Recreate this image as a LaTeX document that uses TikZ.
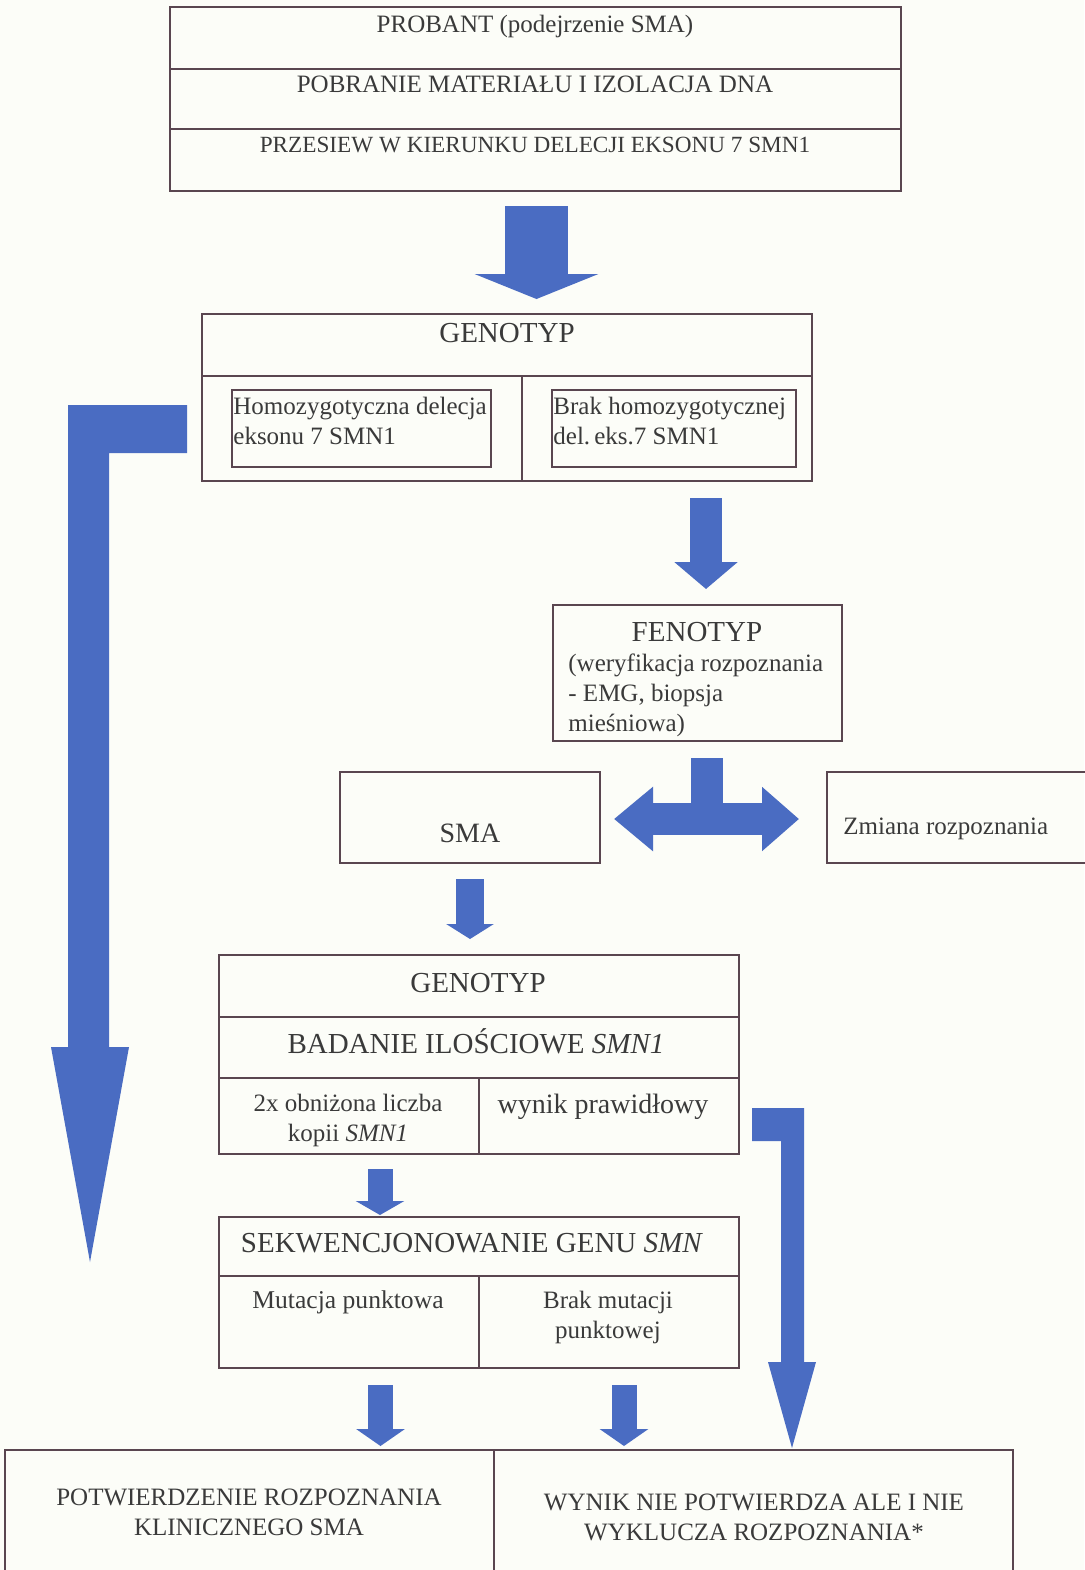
\documentclass[tikz,border=0pt]{standalone}
\usepackage{fontspec}
\setmainfont{Liberation Serif}
\usetikzlibrary{arrows.meta}
\usetikzlibrary{fit}
\definecolor{paper}{HTML}{FCFDF8}
\definecolor{boxline}{HTML}{5A4650}
\definecolor{arrblue}{HTML}{4A6CC2}
\definecolor{ink}{HTML}{3A3A3A}
\tikzset{cell/.style = {draw = boxline, line width = 1pt, inner sep = 0, fit = {#1}}}
\tikzset{txt/.style = {text = ink, inner sep = 0, anchor = base,
                       font = \fontsize{12.5}{15}\selectfont}}
\tikzset{bigtxt/.style = {txt, font = \fontsize{14.5}{17}\selectfont}}
\tikzset{fat/.style args = {#1/#2/#3}{draw = arrblue, line width = #1,
                                      -{Triangle[width = #2, length = #3]}}}
\begin{document}
\begin{tikzpicture}[x = 0.5pt, y = -0.5pt]
          \fill [paper] (0, 0) rectangle (1084, 1570);
          \useasboundingbox (0, 0) rectangle (1084, 1570);
          % top block
          \node [cell = {(170, 7) (901, 69)}] (probant) {};
          \node [cell = {(170, 69) (901, 129)}] (pobranie) {};
          \node [cell = {(170, 129) (901, 191)}] (przesiew) {};
          \node [txt] (tprobant) at (535, 32) {PROBANT (podejrzenie SMA)};
          \node [txt] (tpobranie) at (535, 92) {POBRANIE MATERIAŁU I IZOLACJA DNA};
          \node [txt, font = \fontsize{11.6}{14}\selectfont] (tprzesiew) at (535, 152) {PRZESIEW W KIERUNKU DELECJI EKSONU 7 SMN1};
          % genotyp
          \node [cell = {(202, 314) (812, 376)}] (gen) {};
          \node [cell = {(202, 376) (522, 481)}] (genl) {};
          \node [cell = {(522, 376) (812, 481)}] (genr) {};
          \node [cell = {(232, 390) (491, 467)}] (homo) {};
          \node [cell = {(552, 390) (796, 467)}] (brak) {};
          \node [bigtxt] (tgen) at (507, 342) {GENOTYP};
          \node [txt, anchor = base west, align = left] (thomo) at (233, 444) {Homozygotyczna delecja\\eksonu 7 SMN1};
          \node [txt, anchor = base west, align = left] (tbrak) at (553, 444) {Brak homozygotycznej\\del.\,eks.7 SMN1};
          % fenotyp
          \node [cell = {(553, 605) (842, 741)}] (fen) {};
          \node [bigtxt] (tfen) at (697, 641) {FENOTYP};
          \node [txt, anchor = base west, align = left] (tfenx) at (568, 731) {(weryfikacja rozpoznania\\- EMG, biopsja\\mieśniowa)};
          \node [cell = {(340, 772) (600, 863)}] (sma) {};
          \node [cell = {(827, 772) (1092, 863)}] (zmiana) {};
          \node [txt, font = \fontsize{14}{17}\selectfont] (tsma) at (470, 842) {SMA};
          \node [txt, anchor = base west] (tzmiana) at (843, 834) {Zmiana rozpoznania};
          % genotyp, badanie ilosciowe
          \node [cell = {(219, 955) (739, 1017)}] (gen2) {};
          \node [cell = {(219, 1017) (739, 1078)}] (ilosc) {};
          \node [cell = {(219, 1078) (479, 1154)}] (kopii) {};
          \node [cell = {(479, 1078) (739, 1154)}] (norma) {};
          \node [bigtxt] (tgen2) at (478, 992) {GENOTYP};
          \node [bigtxt] (tilosc) at (476, 1053) {BADANIE ILOŚCIOWE \textit{SMN1}};
          \node [txt, align = center] (tkopii) at (348, 1141) {2x obniżona liczba\\kopii \textit{SMN1}};
          \node [txt, font = \fontsize{14}{17}\selectfont] (tnorma) at (603, 1113) {wynik prawidłowy};
          % sekwencjonowanie
          \node [cell = {(219, 1217) (739, 1276)}] (sek) {};
          \node [cell = {(219, 1276) (479, 1368)}] (mut) {};
          \node [cell = {(479, 1276) (739, 1368)}] (nomut) {};
          \node [bigtxt] (tsek) at (472, 1252) {SEKWENCJONOWANIE GENU \textit{SMN}};
          \node [txt, font = \fontsize{12.8}{15}\selectfont] (tmut) at (348, 1308) {Mutacja punktowa};
          \node [txt, align = center] (tnomut) at (608, 1338) {Brak mutacji\\punktowej};
          % wynik
          \node [cell = {(5, 1450) (494, 1585)}] (potw) {};
          \node [cell = {(494, 1450) (1013, 1585)}] (niepotw) {};
          \node [txt, align = center] (tpotw) at (249, 1535) {POTWIERDZENIE ROZPOZNANIA\\KLINICZNEGO SMA};
          \node [txt, align = center] (tniepotw) at (754, 1540) {WYNIK NIE POTWIERDZA ALE I NIE\\WYKLUCZA ROZPOZNANIA*};
          % arrows
          \draw [fat = 31.5pt/61.5pt/12.5pt, shorten <= 7pt, shorten >= 7pt] ([xshift = 0.5pt]przesiew.south) -- ([xshift = 0.5pt]przesiew.south |- gen.north);
          \draw [fat = 16pt/31pt/13.5pt, shorten <= 8pt, shorten >= 7.5pt] ([xshift = 4.25pt]fen.north |- genr.south) -- ([xshift = 4.25pt]fen.north);
          \coordinate (tl) at (614, 819);
          \coordinate (tr) at (799, 819);
          \coordinate (tm) at (707, 819);
          \draw [draw = arrblue, line width = 16pt, {Triangle[width = 31pt, length = 19.5pt]}-{Triangle[width = 31pt, length = 18.5pt]}] (tl) -- (tr);
          \draw [draw = arrblue, line width = 16pt, shorten <= 8pt] ([xshift = 4.75pt]fen.south) -- (tm);
          \draw [fat = 14pt/23.5pt/7.5pt, shorten <= 7.5pt, shorten >= 7.5pt] (sma.south) -- (sma.south |- gen2.north);
          \draw [fat = 12.5pt/24pt/7pt, shorten <= 7pt, shorten >= 0.5pt] ([xshift = 15.5pt]kopii.south) -- ([xshift = 15.5pt]kopii.south |- sek.north);
          \draw [fat = 12.5pt/24pt/8.5pt, shorten <= 8pt, shorten >= 1.5pt] ([xshift = 15.75pt]mut.south) -- ([xshift = 15.75pt]mut.south |- potw.north);
          \draw [fat = 12.5pt/24pt/8.5pt, shorten <= 8pt, shorten >= 1.5pt] ([xshift = 7.5pt]nomut.south) -- ([xshift = 7.5pt]nomut.south |- niepotw.north);
          % long L arrows
          \coordinate (lend) at (90, 1262);
          \fill [arrblue] (187, 405) -- (68, 405) -- (68, 1047) -- (51, 1047) -- (lend)
                -- (129, 1047) -- (109, 1047) -- (109, 453) -- (187, 453) -- cycle;
          \coordinate (rend) at (792, 1448);
          \fill [arrblue] (752, 1108) -- (804, 1108) -- (804, 1362) -- (816, 1362) -- (rend)
                -- (768, 1362) -- (781, 1362) -- (781, 1141) -- (752, 1141) -- cycle;
        \end{tikzpicture}
\end{document}
